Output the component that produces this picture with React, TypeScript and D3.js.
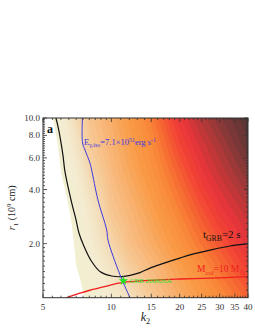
import React, { useEffect, useRef } from 'react';
import * as d3 from 'd3';

// heat-map levels (0 = palest cream, 1 = darkest brown, < 0 = not filled)
const K2_COLS = [5, 6, 7, 8, 10, 12, 15, 20, 25, 30, 40];
const R1_ROWS = [10, 7, 5, 3, 2, 1.5, 1];
const LEVEL_R10 = [-0.10, 0.08, 0.23, 0.33, 0.43, 0.51, 0.61, 0.77, 0.86, 0.92, 1.00];
const LEVEL_R7 = [-0.15, 0.03, 0.17, 0.30, 0.40, 0.48, 0.57, 0.72, 0.81, 0.87, 0.97];
const LEVEL_R5 = [-0.19, 0.00, 0.11, 0.24, 0.37, 0.45, 0.54, 0.67, 0.77, 0.83, 0.92];
const LEVEL_R3 = [-0.25, -0.07, 0.05, 0.14, 0.32, 0.39, 0.48, 0.60, 0.69, 0.76, 0.84];
const LEVEL_R2 = [-0.30, -0.12, 0.02, 0.10, 0.25, 0.35, 0.43, 0.54, 0.63, 0.69, 0.79];
const LEVEL_R15 = [-0.33, -0.15, 0.00, 0.06, 0.18, 0.29, 0.38, 0.49, 0.57, 0.64, 0.74];
const LEVEL_R1 = [-0.38, -0.20, -0.05, 0.03, 0.12, 0.20, 0.31, 0.43, 0.51, 0.57, 0.66];
const LEVELS = [LEVEL_R10, LEVEL_R7, LEVEL_R5, LEVEL_R3, LEVEL_R2, LEVEL_R15, LEVEL_R1];

const COLOR_STOPS = [0, 0.1, 0.2, 0.3, 0.4, 0.5, 0.58, 0.65, 0.72, 0.78, 0.85, 0.92, 1];
const COLOR_VALUES = ['#f1efd0', '#f4ecd2', '#f3e0bf', '#f6cb98', '#f8b474', '#f99c48', '#f98a3a',
  '#f76a32', '#f24535', '#e8353a', '#b83838', '#833838', '#553535'];

// t_GRB = 2 s contour
const TGRB_K2 = [5.70, 5.84, 6.12, 6.25, 6.69, 6.99, 7.20, 7.53, 8.19, 8.91, 10.04, 11.11, 13.37, 14.80, 20.0, 22.2, 27.2, 33.3, 40];
const TGRB_R1 = [10, 8.80, 6.22, 5.01, 3.37, 2.71, 2.29, 1.97, 1.59, 1.40, 1.32, 1.31, 1.38, 1.46, 1.66, 1.73, 1.84, 1.94, 2.00];
// E_iso contour
const EISO_K2 = [7.46, 7.47, 7.66, 8.05, 8.19, 8.73, 9.54, 9.67, 10.92, 12.08];
const EISO_R1 = [10, 7.26, 6.63, 5.62, 5.14, 3.50, 2.38, 2.09, 1.34, 1.0];
// M_col = 10 Msun contour
const MCOL_K2 = [6.36, 7.28, 8.05, 9.54, 10.92, 13.37, 20.0, 30.1, 40];
const MCOL_R1 = [1.0, 1.06, 1.10, 1.16, 1.21, 1.24, 1.27, 1.29, 1.31];

const GRB_K2 = 11.3;
const GRB_R1 = 1.24;

const X_TICKS = [5, 10, 15, 20, 25, 30, 35, 40];
const Y_TICKS = [2, 4, 6, 8, 10];
const Y_TICK_LABELS = ['2.0', '4.0', '6.0', '8.0', '10.0'];

const FONT = '"Liberation Serif", "DejaVu Serif", serif';

type Part = [string, number]; // 0 normal, 1 sub, 2 sup

const rich = (g: any, x: number, y: number, parts: Part[], size: number, color: string, anchor = 'start') => {
  const t = g.append('text')
    .attr('x', x).attr('y', y)
    .attr('font-size', size)
    .attr('font-family', FONT)
    .attr('fill', color)
    .attr('text-anchor', anchor);
  let shift = 0;
  parts.forEach(([txt, kind]) => {
    const target = kind === 1 ? size * 0.28 : kind === 2 ? -size * 0.4 : 0;
    const ts = t.append('tspan').text(txt).attr('dy', target - shift);
    if (kind) ts.attr('font-size', size * 0.7);
    if (txt === 'r' || txt === 'k') ts.attr('font-style', 'italic');
    shift = target;
  });
  return t;
};

const App = () => {
  const svgRef = useRef(null);
  const width = 255;
  const height = 330;

  useEffect(() => {
    const svg = d3.select(svgRef.current);
    svg.selectAll('*').remove();

    const left = 43, right = 248, top = 118, bottom = 297.7;
    const x = d3.scaleLog().domain([5, 40]).range([left, right]);
    const y = d3.scaleLog().domain([1, 10]).range([bottom, top]);

    // sample the level table onto a fine grid (log-log bilinear)
    const logK = K2_COLS.map(Math.log);
    const logR = R1_ROWS.map(Math.log);
    const fieldAt = (k2: number, r1: number) => {
      const lk = Math.log(k2), lr = Math.log(r1);
      let c = d3.bisectRight(logK, lk) - 1;
      c = Math.max(0, Math.min(logK.length - 2, c));
      const tc = (lk - logK[c]) / (logK[c + 1] - logK[c]);
      let r = 0;
      while (r < logR.length - 2 && lr < logR[r + 1]) r++;
      const tr = (logR[r] - lr) / (logR[r] - logR[r + 1]);
      const a = LEVELS[r], b = LEVELS[r + 1];
      return (1 - tr) * ((1 - tc) * a[c] + tc * a[c + 1]) + tr * ((1 - tc) * b[c] + tc * b[c + 1]);
    };

    const nx = 205, ny = 180;
    const sx = (right - left) / nx, sy = (bottom - top) / ny;
    const values = new Array(nx * ny);
    for (let j = 0; j < ny; j++) {
      for (let i = 0; i < nx; i++) {
        values[j * nx + i] = fieldAt(x.invert(left + (i + 0.5) * sx), y.invert(top + (j + 0.5) * sy));
      }
    }

    const color = d3.scaleLinear<string>().domain(COLOR_STOPS).range(COLOR_VALUES).interpolate(d3.interpolateRgb);
    const thresholds = d3.range(0, 1.0001, 0.025);
    const contours = d3.contours().size([nx, ny]).thresholds(thresholds)(values);

    svg.append('g')
      .attr('transform', `translate(${left},${top}) scale(${sx},${sy})`)
      .selectAll('path')
      .data(contours)
      .enter()
      .append('path')
      .attr('d', d3.geoPath())
      .attr('fill', (d: any) => color(d.value + 0.0125))
      .attr('stroke', 'none');

    // contour lines
    const line = d3.line<[number, number]>()
      .x(d => x(d[0]))
      .y(d => y(d[1]))
      .curve(d3.curveCatmullRom.alpha(0.5));

    const drawCurve = (ks: number[], rs: number[], stroke: string, w: number) => {
      svg.append('path')
        .attr('d', line(ks.map((k, i) => [k, rs[i]] as [number, number])))
        .attr('fill', 'none')
        .attr('stroke', stroke)
        .attr('stroke-width', w);
    };
    drawCurve(TGRB_K2, TGRB_R1, '#111', 1.2);
    drawCurve(EISO_K2, EISO_R1, '#3a3ae0', 1);
    drawCurve(MCOL_K2, MCOL_R1, '#f01e1e', 1.4);

    // GRB marker
    svg.append('path')
      .attr('d', d3.symbol().type(d3.symbolStar).size(28)())
      .attr('transform', `translate(${x(GRB_K2)},${y(GRB_R1)})`)
      .attr('fill', '#22e022');

    rich(svg, x(GRB_K2) + 6, y(GRB_R1) + 2.5, [['GRB 200826A', 0]], 7, '#22e022');

    // annotations
    rich(svg, 47, 133, [['a', 0]], 12, '#111').attr('font-weight', 'bold');
    rich(svg, 84, 145, [['E', 0], ['γ,iso', 1], ['=7.1×10', 0], ['51', 2], ['erg s', 0], ['-1', 2]], 8.5, '#3a3ae0');
    rich(svg, 203, 238, [['t', 0], ['GRB', 1], ['=2 s', 0]], 11, '#111');
    rich(svg, 197, 272, [['M', 0], ['col', 1], ['=10 M', 0], ['⊙', 1]], 9.5, '#f02020')
      .select('tspan:last-child').attr('font-family', '"DejaVu Sans", sans-serif').attr('font-size', 7.5);

    // frame + ticks
    const axis = svg.append('g').attr('stroke', '#333');
    axis.append('rect')
      .attr('x', left).attr('y', top)
      .attr('width', right - left).attr('height', bottom - top)
      .attr('fill', 'none').attr('stroke-width', 1);

    const xMinor = d3.range(5.5, 10, 0.5).concat(d3.range(11, 40, 1)).filter(v => !X_TICKS.includes(v));
    const yMinor = d3.range(1.1, 2, 0.1).concat(d3.range(2.2, 10, 0.2))
      .filter(v => !Y_TICKS.some(t => Math.abs(t - v) < 1e-6));

    X_TICKS.forEach(v => {
      axis.append('line').attr('x1', x(v)).attr('x2', x(v)).attr('y1', bottom).attr('y2', bottom - 4);
      axis.append('line').attr('x1', x(v)).attr('x2', x(v)).attr('y1', top).attr('y2', top + 4);
    });
    xMinor.forEach(v => {
      axis.append('line').attr('x1', x(v)).attr('x2', x(v)).attr('y1', bottom).attr('y2', bottom - 2);
      axis.append('line').attr('x1', x(v)).attr('x2', x(v)).attr('y1', top).attr('y2', top + 2);
    });
    Y_TICKS.forEach(v => {
      axis.append('line').attr('y1', y(v)).attr('y2', y(v)).attr('x1', left).attr('x2', left + 4);
      axis.append('line').attr('y1', y(v)).attr('y2', y(v)).attr('x1', right).attr('x2', right - 4);
    });
    yMinor.forEach(v => {
      axis.append('line').attr('y1', y(v)).attr('y2', y(v)).attr('x1', left).attr('x2', left + 2);
      axis.append('line').attr('y1', y(v)).attr('y2', y(v)).attr('x1', right).attr('x2', right - 2);
    });
    axis.selectAll('line').attr('stroke-width', 0.8);

    // tick labels
    X_TICKS.forEach(v => {
      rich(svg, x(v), 309.5, [[String(v), 0]], 9, '#333', 'middle');
    });
    Y_TICKS.forEach((v, i) => {
      rich(svg, 40, y(v) + 3, [[Y_TICK_LABELS[i], 0]], 9, '#333', 'end');
    });

    // axis titles
    rich(svg, (left + right) / 2, 321, [['k', 0], ['2', 1]], 12, '#222', 'middle');
    rich(svg, 0, 0, [['r', 0], ['1', 1], [' (10', 0], ['9', 2], [' cm)', 0]], 10, '#222', 'middle')
      .attr('transform', `translate(15,${(top + bottom) / 2}) rotate(-90)`);
  }, []);

  return (
    <svg ref={svgRef} width={width} height={height}
      style={{ position: 'absolute', left: 0, top: 0, background: '#fff' }} />
  );
};

export default App;
